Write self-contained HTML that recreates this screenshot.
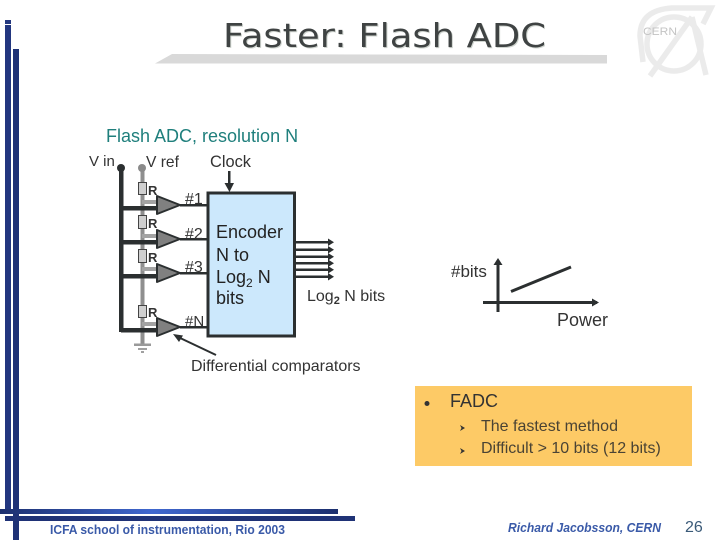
<!DOCTYPE html>
<html><head><meta charset="utf-8"><style>
html,body{margin:0;padding:0;background:#fff}
svg{display:block}
text{font-family:"Liberation Sans",sans-serif;fill:#333}
</style></head><body>
<svg width="720" height="540" viewBox="0 0 720 540" xmlns="http://www.w3.org/2000/svg">
<defs>
<linearGradient id="g" x1="0" x2="1" y1="0" y2="0">
<stop offset="0" stop-color="#1c2f6e"/><stop offset=".45" stop-color="#3f67cf"/><stop offset="1" stop-color="#1c2f6e"/>
</linearGradient>
</defs>
<!-- decoration -->
<rect x="5" y="20" width="6" height="4" fill="#24387f"/>
<rect x="5" y="25" width="6" height="488" fill="#22367f"/>
<rect x="13" y="49" width="6" height="491" fill="#1f3276"/>
<rect x="0" y="509" width="338" height="5" fill="url(#g)"/>
<rect x="5" y="516" width="350" height="5" fill="#1f3276"/>
<rect x="11" y="514" width="2" height="2" fill="#fff"/>
<!-- title bar -->
<polygon points="155,63.500 172,54 607,55 607,63.500" fill="#d9d9d9"/>
<text x="224" y="48" font-size="33" textLength="323" lengthAdjust="spacingAndGlyphs" style="font-family:'DejaVu Sans',sans-serif;fill:#cfd4cf">Faster: Flash ADC</text>
<text x="223" y="47" font-size="33" textLength="323" lengthAdjust="spacingAndGlyphs" style="font-family:'DejaVu Sans',sans-serif;fill:#3f4343">Faster: Flash ADC</text>
<!-- CERN logo -->
<g fill="none" stroke="#ebebeb" stroke-width="5.500">
<circle cx="674" cy="44" r="27"/>
<path d="M643 62 L640 36 Q640 10 672 8 L711 8 L703 24"/>
<path d="M692 17 L650 76 M692 17 L706 75"/>
</g>
<text x="643" y="35" font-size="11" textLength="34" lengthAdjust="spacingAndGlyphs" style="fill:#c4c4c4">CERN</text>
<!-- labels -->
<text x="106" y="142" font-size="18" style="fill:#1f7f7c">Flash ADC, resolution N</text>
<text x="89" y="166" font-size="15">V in</text>
<text x="146" y="167" font-size="15.600">V ref</text>
<text x="210" y="167" font-size="16.400">Clock</text>
<!-- Vref rail -->
<rect x="140.500" y="168" width="4" height="176" fill="#8f8f8f"/>
<circle cx="142" cy="168" r="4" fill="#8a8a8a"/>
<rect x="134" y="343.500" width="17" height="2.500" fill="#9a9a9a"/>
<rect x="138" y="348" width="9" height="2" fill="#a0a0a0"/>
<rect x="141" y="351" width="3" height="2" fill="#a0a0a0"/>
<!-- gray taps -->
<g fill="#a3a3a3">
<rect x="142" y="200" width="15" height="4"/>
<rect x="142" y="234" width="15" height="4"/>
<rect x="142" y="267" width="15" height="4"/>
<rect x="142" y="322" width="15" height="4"/>
</g>
<!-- Vin rail -->
<rect x="119" y="168" width="4.500" height="164" fill="#2b2f30"/>
<circle cx="121" cy="168" r="4" fill="#2b2f30"/>
<g fill="#2b2f30">
<rect x="121" y="206" width="36" height="4.500"/>
<rect x="121" y="240" width="36" height="4.500"/>
<rect x="121" y="274" width="36" height="4.500"/>
<rect x="121" y="328" width="36" height="4.500"/>
</g>
<!-- resistors -->
<g fill="#cfcfcf" stroke="#444" stroke-width="1">
<rect x="138.500" y="182.500" width="8" height="12"/>
<rect x="138.500" y="215.500" width="8" height="13"/>
<rect x="138.500" y="249.500" width="8" height="13"/>
<rect x="138.500" y="305.500" width="8" height="12"/>
</g>
<g font-size="13" font-weight="bold">
<text x="148" y="195" style="fill:#333">R</text>
<text x="148" y="228" style="fill:#333">R</text>
<text x="148" y="262" style="fill:#333">R</text>
<text x="148" y="317" style="fill:#333">R</text>
</g>
<!-- outputs -->
<g fill="#2b2f30">
<rect x="180" y="204" width="28" height="2.500"/>
<rect x="180" y="238" width="28" height="2.500"/>
<rect x="180" y="272" width="28" height="2.500"/>
<rect x="180" y="326" width="28" height="2.500"/>
</g>
<!-- comparators -->
<g fill="#808080" stroke="#2b2f30" stroke-width="2" stroke-linejoin="round">
<polygon points="157,196 157,214 180,205"/>
<polygon points="157,230 157,248 180,239"/>
<polygon points="157,264 157,282 180,273"/>
<polygon points="157,318 157,336 180,327"/>
</g>
<g font-size="16">
<text x="185" y="204">#1</text>
<text x="185" y="239">#2</text>
<text x="185" y="272">#3</text>
<text x="185" y="326" font-size="15">#N</text>
</g>
<!-- encoder -->
<rect x="208" y="193" width="86.500" height="143" fill="#cce8fc" stroke="#2b2f30" stroke-width="3"/>
<g font-size="18">
<text x="216" y="238" style="fill:#222">Encoder</text>
<text x="216" y="261" style="fill:#222">N to</text>
<text x="216" y="283" style="fill:#222">Log<tspan font-size="12" dy="4">2</tspan><tspan dy="-4"> N</tspan></text>
<text x="216" y="304" style="fill:#222">bits</text>
</g>
<!-- clock arrow -->
<rect x="228" y="171" width="2.500" height="16" fill="#2b2f30"/>
<polygon points="224.500,183 234,183 229.500,192" fill="#2b2f30"/>
<!-- output bus -->
<g fill="#2b2f30">
<rect x="295" y="241" width="34" height="2.500"/><polygon points="328,238.500 334,242.200 328,246"/>
<rect x="295" y="248.500" width="34" height="2.500"/><polygon points="328,246 334,249.700 328,253.500"/>
<rect x="295" y="255.500" width="34" height="2.500"/><polygon points="328,253 334,256.700 328,260.500"/>
<rect x="295" y="262" width="34" height="2.500"/><polygon points="328,259.500 334,263.200 328,267"/>
<rect x="295" y="268.500" width="34" height="2.500"/><polygon points="328,266 334,269.700 328,273.500"/>
<rect x="295" y="275.500" width="34" height="2.500"/><polygon points="328,273 334,276.700 328,280.500"/>
</g>
<text x="307" y="301" font-size="16">Log<tspan font-size="11" dy="3" font-weight="bold">2</tspan><tspan dy="-3"> N bits</tspan></text>
<!-- differential arrow -->
<line x1="216" y1="355" x2="178" y2="337" stroke="#2b2f30" stroke-width="2"/>
<polygon points="173,334 183,335.500 179,342" fill="#2b2f30"/>
<text x="191" y="371" font-size="16">Differential comparators</text>
<!-- plot -->
<text x="451" y="277" font-size="17">#bits</text>
<rect x="496.500" y="260" width="3" height="52" fill="#2b2f30"/>
<polygon points="498,258 493.500,265 502.500,265" fill="#2b2f30"/>
<rect x="483" y="301" width="114" height="3" fill="#2b2f30"/>
<polygon points="599,302.500 592,298.500 592,306.500" fill="#2b2f30"/>
<line x1="511" y1="291.500" x2="571" y2="267" stroke="#2b2f30" stroke-width="3"/>
<text x="557" y="326" font-size="18">Power</text>
<!-- note box -->
<rect x="415" y="386" width="277" height="80" fill="#fdca66"/>
<circle cx="427" cy="403.500" r="2.500" fill="#333"/>
<text x="450" y="407" font-size="18">FADC</text>
<polygon points="460,425 465,428 460,431 461.500,428" fill="#333"/>
<polygon points="460,448 465,451 460,454 461.500,451" fill="#333"/>
<text x="481" y="431" font-size="16" style="fill:#4a4334">The fastest method</text>
<text x="481" y="453" font-size="16" style="fill:#4a4334">Difficult &gt; 10 bits (12 bits)</text>
<!-- footer -->
<text x="50" y="534" font-size="12.500" font-weight="bold" textLength="235" lengthAdjust="spacingAndGlyphs" style="fill:#3a5aa8">ICFA school of instrumentation, Rio 2003</text>
<text x="508" y="532" font-size="12.500" font-weight="bold" font-style="italic" textLength="153" lengthAdjust="spacingAndGlyphs" style="fill:#3a5aa8">Richard Jacobsson, CERN</text>
<text x="685" y="532" font-size="16" style="fill:#3a5a78">26</text>
</svg>
</body></html>
